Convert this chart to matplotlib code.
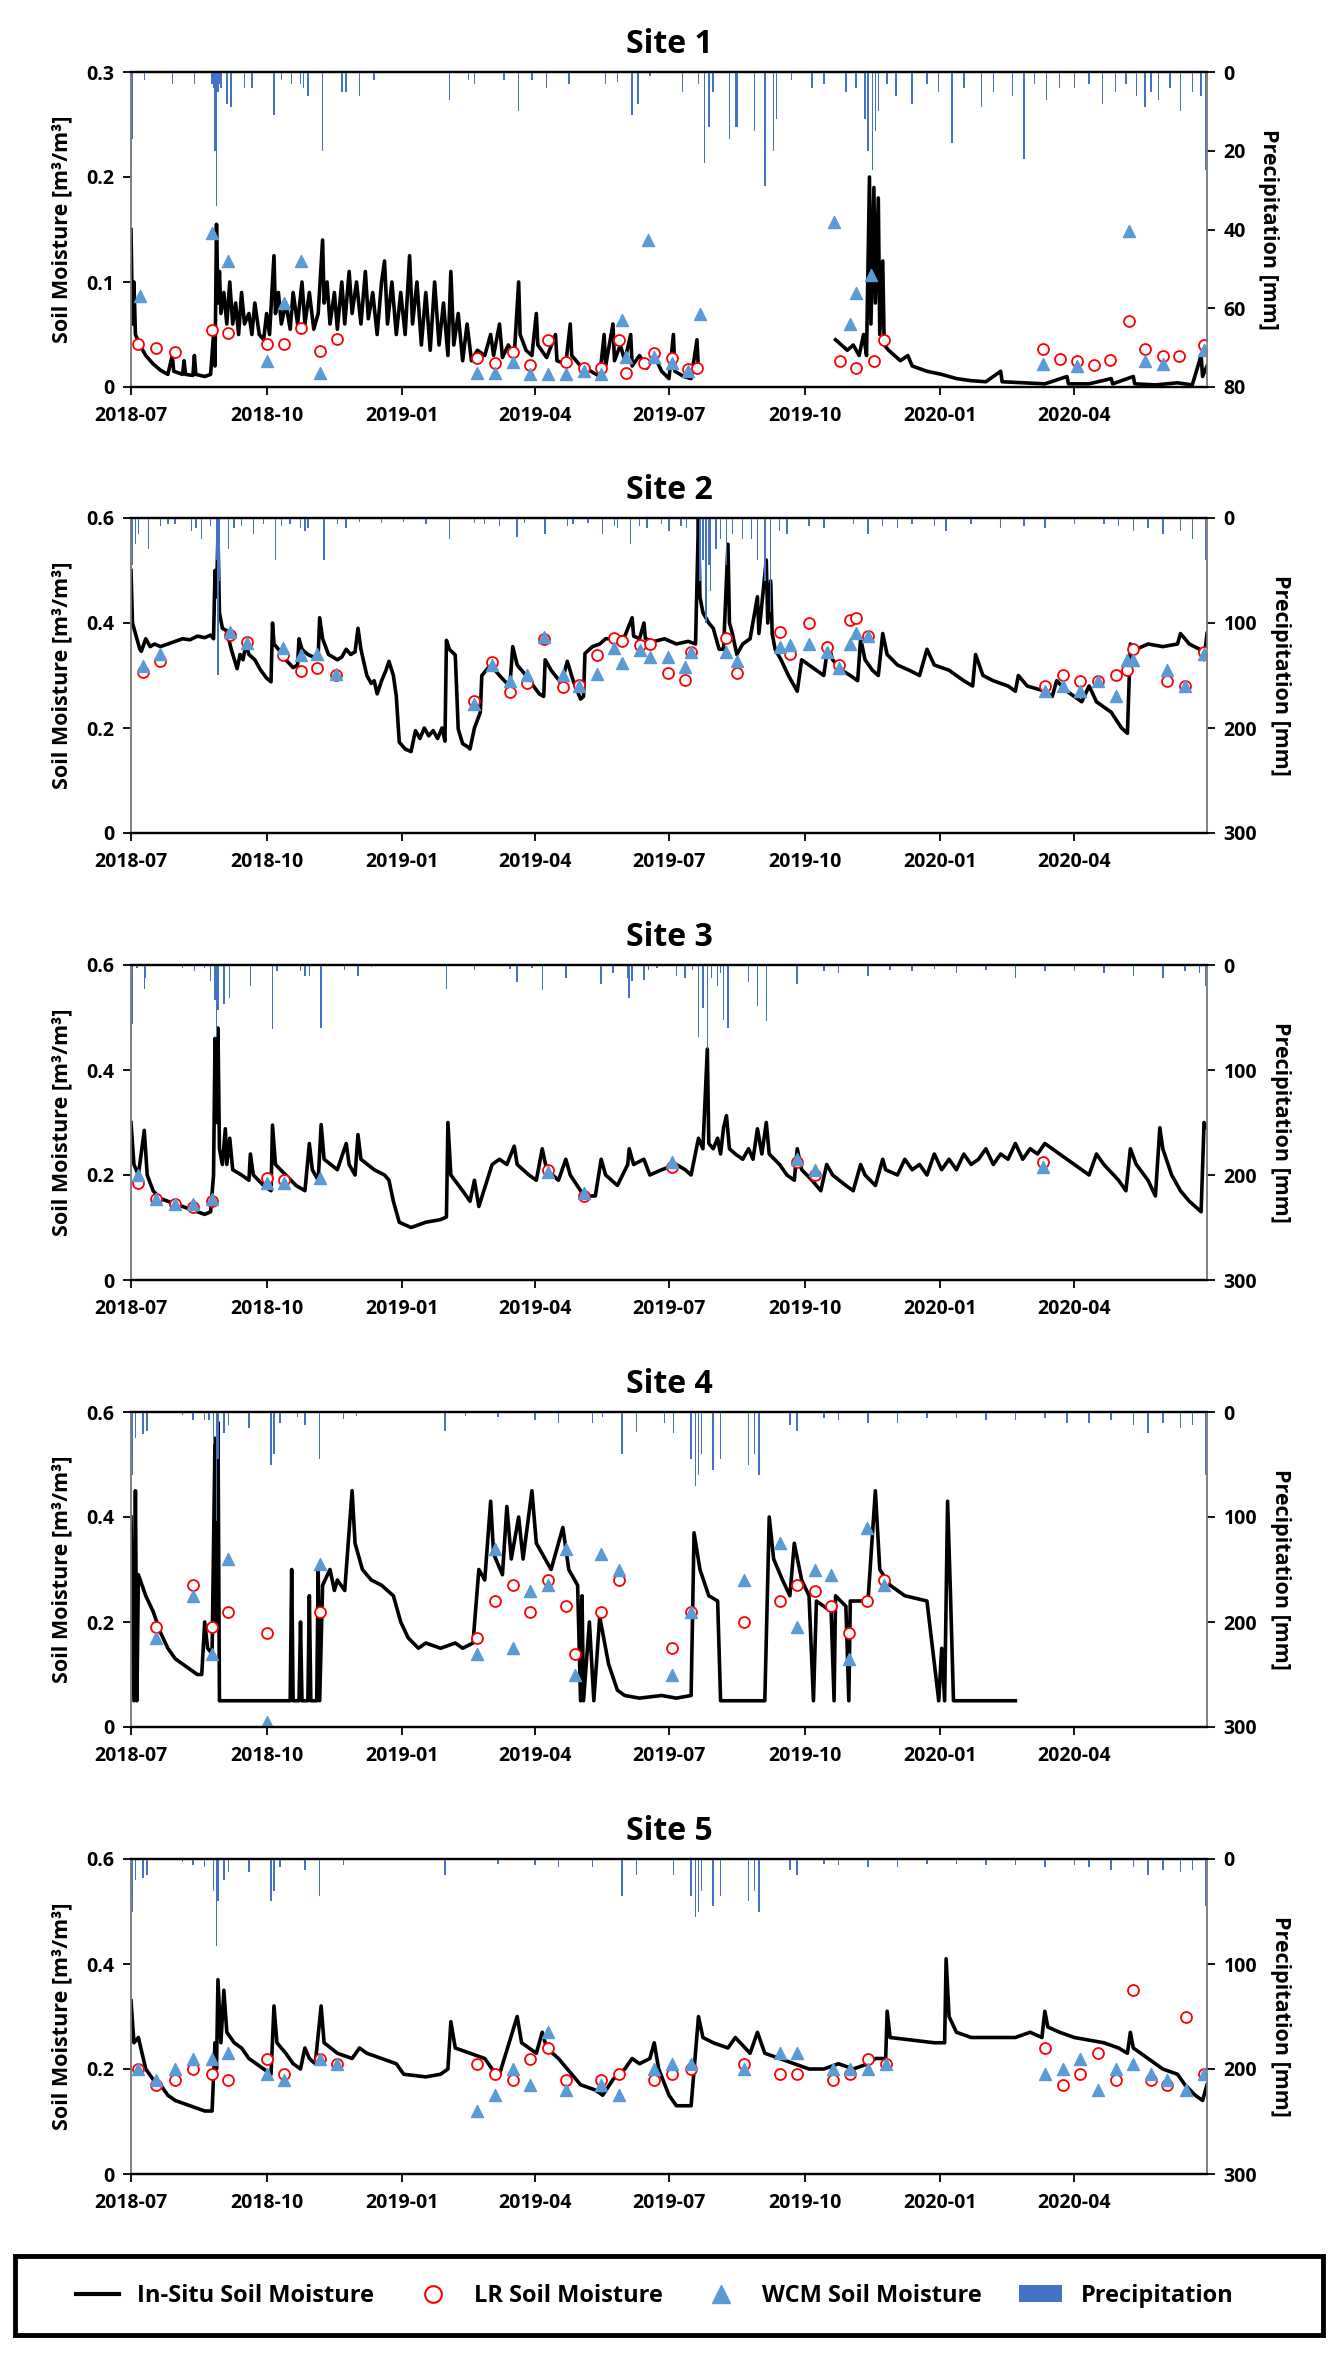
import matplotlib
matplotlib.use("Agg")
import matplotlib.pyplot as plt
import matplotlib.dates as mdates
import numpy as np
import pandas as pd
from matplotlib.lines import Line2D
from matplotlib.patches import Patch, Rectangle

plt.rcParams['font.family'] = ['Open Sans', 'DejaVu Sans']
plt.rcParams['font.weight'] = 'bold'

# all days are counted from 2018-07-01
start = pd.Timestamp("2018-07-01")
nan = np.nan

# ---------------- Site 1 ----------------
s1_day = [0, 1, 2, 3, 6, 10, 15, 20, 25, 28, 29, 35, 36, 37, 42, 43, 44, 50, 54, 56, 57, 58, 59, 60, 61, 63, 65, 67, 69,
          71, 73, 75, 77, 80, 82, 84, 87, 90, 92, 94, 97, 98, 100, 102, 105, 108, 110, 113, 116, 118, 121, 124, 127,
          130, 131, 133, 135, 138, 140, 143, 145, 148, 150, 153, 156, 159, 161, 164, 167, 170, 172, 174, 177, 180,
          183, 186, 189, 191, 194, 197, 200, 203, 206, 209, 212, 215, 217, 219, 222, 225, 228, 231, 235, 240, 244,
          246, 250, 252, 256, 260, 263, 264, 268, 272, 275, 276, 282, 288, 289, 295, 298, 299, 305, 312, 318, 321,
          322, 327, 328, 332, 335, 339, 340, 345, 350, 355, 360, 365, 368, 369, 375, 380, 384, 385, 386,
          476, 478, 482, 486, 490, 494, 497, 499, 501, 502, 504, 505, 507, 508, 510, 511, 514, 518, 522, 527, 530,
          540, 550, 560, 570, 580, 590, 591, 605, 620, 635, 636, 650, 665, 666, 680, 681, 695, 710, 720, 726, 727, 730]
s1_insitu = [0.15, 0.06, 0.1, 0.05, 0.04, 0.03, 0.022, 0.016, 0.012, 0.03, 0.015, 0.012, 0.025, 0.012, 0.011, 0.03,
             0.012, 0.01, 0.012, 0.05, 0.02, 0.155, 0.08, 0.11, 0.07, 0.09, 0.06, 0.1, 0.06,
             0.08, 0.05, 0.09, 0.06, 0.07, 0.05, 0.08, 0.05, 0.045, 0.07, 0.05, 0.125, 0.07, 0.09, 0.06, 0.08, 0.055,
             0.09, 0.06, 0.1, 0.06, 0.09, 0.055, 0.07,
             0.14, 0.08, 0.1, 0.06, 0.09, 0.055, 0.1, 0.06, 0.11, 0.07, 0.1, 0.06, 0.11, 0.065, 0.09, 0.05, 0.1, 0.12,
             0.06, 0.1, 0.05,
             0.09, 0.05, 0.125, 0.06, 0.1, 0.04, 0.09, 0.035, 0.1, 0.04, 0.08, 0.03, 0.11, 0.04, 0.07, 0.025, 0.06,
             0.025, 0.035, 0.03, 0.05,
             0.03, 0.06, 0.028, 0.04, 0.03, 0.1, 0.05, 0.035, 0.03, 0.07, 0.04, 0.028, 0.05, 0.025, 0.022, 0.06, 0.03,
             0.02, 0.015, 0.01, 0.05,
             0.02, 0.06, 0.025, 0.04, 0.025, 0.05, 0.02, 0.03, 0.018, 0.03, 0.015, 0.008, 0.05, 0.015, 0.01, 0.008,
             0.045, 0.015, nan,
             nan, 0.045, 0.04, 0.035, 0.04, 0.03, 0.05, 0.03, 0.2, 0.06, 0.19, 0.08, 0.18, 0.05, 0.12, 0.04, 0.035,
             0.03, 0.025, 0.03, 0.02,
             0.015, 0.012, 0.008, 0.006, 0.005, 0.015, 0.005, 0.004, 0.003, 0.01, 0.003, 0.003, 0.008, 0.003, 0.01,
             0.003, 0.002, 0.004, 0.002, 0.03, 0.01, 0.02]
s1_lr_day = [5, 17, 30, 55, 66, 92, 104, 115, 128, 140, 235, 247, 259, 271, 283, 295, 307, 319, 331, 336, 348, 355,
             367, 378, 384, 481, 492, 504, 511, 619, 630, 642, 653, 664, 677, 688, 700, 711, 728]
s1_lr = [0.041, 0.037, 0.033, 0.054, 0.051, 0.041, 0.041, 0.056, 0.034, 0.046, 0.028, 0.023, 0.033, 0.021, 0.045,
         0.024, 0.018, 0.018, 0.045, 0.013, 0.023, 0.032, 0.028, 0.017, 0.018, 0.025, 0.018, 0.025, 0.045, 0.036,
         0.027, 0.025, 0.021, 0.026, 0.063, 0.036, 0.03, 0.03, 0.04]
s1_wcm_day = [6, 55, 66, 92, 104, 115, 128, 235, 247, 259, 271, 283, 295, 307, 319, 333, 336, 351, 355, 367, 378,
              386, 477, 488, 492, 502, 619, 642, 677, 688, 700, 728]
s1_wcm = [0.087, 0.147, 0.12, 0.025, 0.08, 0.12, 0.013, 0.013, 0.013, 0.024, 0.012, 0.012, 0.012, 0.015, 0.012,
          0.064, 0.029, 0.14, 0.029, 0.023, 0.015, 0.07, 0.157, 0.06, 0.09, 0.107, 0.022, 0.02, 0.149, 0.025, 0.022,
          0.035]
s1_p_day = [0, 1, 9, 28, 43, 55, 56, 57, 58, 59, 60, 61, 65, 68, 77, 82, 97, 102, 109, 115, 117, 120, 130, 143, 146,
            155, 165, 216, 229, 233, 253, 263, 272, 282, 297, 322, 330, 340, 344, 352, 374, 385, 389, 392, 395, 406,
            410, 411, 423, 430, 436, 438, 448, 462, 470, 485, 492, 498, 500, 503, 505, 507, 513, 519, 530, 540, 548,
            557, 565, 577, 585, 598, 606, 613, 621, 630, 640, 650, 659, 668, 675, 682, 688, 692, 697, 705, 712, 720,
            726, 729]
s1_p = [25, 17, 2, 3, 3, 3, 4, 20, 34, 5, 3, 4, 8, 9, 4, 4, 11, 2, 3, 3, 4, 6, 20, 5, 5, 6, 2, 7, 2, 3, 2, 10, 2, 4, 3,
        3, 2.5, 11, 8, 1, 5, 3, 23, 14, 5, 17, 14, 14, 15, 29, 20, 12, 2, 4, 3, 5, 4, 12, 20, 25, 15, 10, 3, 6, 8, 3, 5,
        18, 4, 9, 5, 6, 22, 3, 7, 4, 4, 3, 8, 5, 3, 6, 9, 5, 7, 4, 10, 5, 6, 25]

# ---------------- Site 2 ----------------
s2_day = [0, 1, 3, 6, 7, 10, 13, 16, 20, 25, 30, 35, 40, 45, 50, 54, 56, 57, 58, 59, 60, 62, 65, 68, 72, 74, 76, 78,
          80, 84, 88, 92, 95, 96, 97, 100, 105, 110, 113, 114, 116, 120, 124, 127, 128, 130, 134, 140, 143, 146, 149,
          152, 154, 156, 160, 163, 165, 167, 170, 173, 175, 178, 180, 182, 186, 190, 193, 196, 199, 202, 205, 208,
          211, 213, 214, 216, 220, 222, 225, 228, 230, 233, 237, 238, 244, 250, 257, 259, 262, 268, 273, 277, 280,
          281, 285, 292, 296, 300, 305, 307, 308, 313, 318, 322, 328, 335, 340, 341, 345, 348, 349, 355, 362, 370,
          378, 383, 385, 386, 388, 392, 395, 399, 402, 405, 406, 408, 411, 415, 420, 425, 426, 431, 432, 434, 435,
          437, 441, 446, 452, 455, 460, 465, 470, 473, 476, 482, 488, 493, 495, 498, 503, 507, 510, 513, 520, 528,
          535, 540, 545, 555, 560, 565, 571, 573, 578, 585, 595, 600, 602, 608, 620, 625, 628, 635, 645, 650, 655,
          665, 672, 676, 678, 682, 690, 700, 710, 712, 718, 725, 728, 730]
s2_insitu = [0.5, 0.4, 0.38, 0.35, 0.346, 0.37, 0.355, 0.36, 0.355, 0.36, 0.365, 0.37, 0.368, 0.375, 0.372, 0.377,
             0.37, 0.5, 0.45, 0.57, 0.42, 0.39, 0.385, 0.35, 0.313, 0.34, 0.33, 0.36,
             0.34, 0.33, 0.31, 0.295, 0.288, 0.4, 0.36, 0.35, 0.33, 0.315, 0.32, 0.37, 0.35, 0.34, 0.335, 0.34, 0.41,
             0.37, 0.34, 0.33, 0.335, 0.35, 0.34,
             0.345, 0.39, 0.35, 0.3, 0.285, 0.29, 0.265, 0.29, 0.31, 0.327, 0.3, 0.26, 0.173, 0.16, 0.155, 0.195, 0.18,
             0.2, 0.185, 0.195, 0.18,
             0.2, 0.175, 0.367, 0.35, 0.339, 0.198, 0.17, 0.165, 0.16, 0.2, 0.23, 0.3, 0.32, 0.3, 0.279, 0.355, 0.32,
             0.3, 0.28, 0.265, 0.26,
             0.33, 0.31, 0.285, 0.327, 0.29, 0.255, 0.26, 0.342, 0.355, 0.36, 0.37, 0.37, 0.375, 0.41, 0.375, 0.37,
             0.4, 0.37, 0.365, 0.37, 0.36,
             0.365, 0.36, 0.6, 0.45, 0.42, 0.4, 0.39, 0.35, 0.35, 0.55, 0.4, 0.38, 0.34, 0.36, 0.37, 0.45, 0.38, 0.52,
             0.4, 0.48, 0.38,
             0.35, 0.33, 0.3, 0.27, 0.33, 0.32, 0.31, 0.3, 0.36, 0.33, 0.31, 0.3, 0.29, 0.37, 0.33, 0.31, 0.3, 0.38,
             0.34, 0.32, 0.31,
             0.3, 0.35, 0.32, 0.31, 0.3, 0.29, 0.28, 0.34, 0.3, 0.29, 0.28, 0.27, 0.3, 0.28, 0.27, 0.26, 0.29, 0.27,
             0.25, 0.28, 0.25,
             0.23, 0.2, 0.19, 0.36, 0.35, 0.36, 0.355, 0.36, 0.38, 0.36, 0.35, 0.33, 0.38]
s2_lr_day = [8, 20, 67, 79, 103, 115, 126, 139, 233, 245, 257, 269, 280, 293, 304, 316, 328, 333, 345, 352, 364, 376,
             380, 404, 411, 440, 447, 460, 472, 480, 488, 492, 500, 620, 632, 644, 656, 668, 676, 680, 703, 715, 728]
s2_lr = [0.307, 0.328, 0.378, 0.363, 0.339, 0.308, 0.315, 0.301, 0.251, 0.325, 0.269, 0.285, 0.37, 0.279, 0.281,
         0.339, 0.371, 0.365, 0.358, 0.36, 0.305, 0.291, 0.344, 0.372, 0.304, 0.383, 0.34, 0.4, 0.355, 0.32, 0.405,
         0.41, 0.375, 0.28, 0.3, 0.29, 0.29, 0.3, 0.31, 0.35, 0.29, 0.28, 0.345]
s2_wcm_day = [8, 20, 67, 79, 103, 115, 126, 139, 233, 245, 257, 269, 280, 293, 304, 316, 328, 333, 345, 352, 364,
              376, 380, 404, 411, 440, 447, 460, 472, 480, 488, 492, 500, 620, 632, 644, 656, 668, 676, 680, 703, 715,
              728]
s2_wcm = [0.319, 0.341, 0.383, 0.362, 0.353, 0.339, 0.34, 0.303, 0.246, 0.32, 0.29, 0.3, 0.374, 0.3, 0.28, 0.302,
          0.353, 0.324, 0.349, 0.335, 0.335, 0.317, 0.344, 0.345, 0.327, 0.355, 0.358, 0.36, 0.345, 0.315, 0.36,
          0.38, 0.375, 0.27, 0.28, 0.27, 0.29, 0.26, 0.33, 0.33, 0.31, 0.28, 0.34]
s2_p_day = [0, 1, 3, 5, 12, 20, 25, 30, 41, 44, 48, 54, 58, 59, 60, 66, 70, 75, 83, 90, 98, 102, 108, 115, 118, 120,
            131, 140, 146, 155, 170, 185, 200, 216, 233, 240, 250, 262, 267, 281, 296, 300, 310, 320, 328, 330, 339,
            345, 350, 360, 365, 373, 377, 386, 388, 390, 392, 393, 397, 400, 404, 408, 415, 421, 425, 430, 434, 440,
            445, 460, 470, 490, 500, 510, 520, 530, 545, 553, 570, 590, 606, 620, 640, 660, 670, 680, 690, 700, 712,
            720, 729]
s2_p = [30, 45, 25, 15, 30, 8, 6, 6, 12, 10, 20, 8, 40, 150, 60, 30, 10, 8, 15, 6, 40, 8, 6, 10, 12, 10, 40, 6, 10, 4,
        5, 4, 6, 20, 5, 6, 8, 18, 5, 15, 8, 6, 5, 15, 8, 10, 25, 8, 10, 6, 12, 8, 10, 60, 40, 100, 45, 70, 30, 20, 45,
        15, 20, 20, 40, 60, 90, 12, 15, 8, 10, 6, 15, 8, 10, 6, 8, 12, 6, 10, 8, 10, 6, 6, 8, 12, 10, 15, 12, 20, 40]

# ---------------- Site 3 ----------------
s3_day = [0, 2, 5, 9, 11, 15, 20, 25, 30, 35, 40, 45, 50, 54, 56, 57, 58, 59, 60, 62, 64, 65, 67, 69, 75, 80, 81, 83,
          90, 95, 96, 98, 105, 112, 118, 121, 123, 127, 129, 131, 140, 146, 148, 152, 154, 156, 165, 172, 175, 178,
          182, 190, 200, 210, 214, 215, 217, 225, 230, 233, 236, 245, 250, 255, 260, 262, 270, 275, 279, 282, 290,
          295, 298, 305, 310, 315, 319, 322, 330, 337, 338, 341, 348, 352, 360, 370, 376, 380, 385, 388, 391, 392,
          395, 398, 400, 402, 404, 406, 410, 415, 419, 422, 425, 428, 431, 433, 440, 445, 450, 452, 455, 462, 468,
          472, 476, 485, 490, 495, 498, 505, 510, 512, 520, 525, 530, 535, 540, 545, 550, 555, 560, 565, 570, 575,
          580, 585, 590, 595, 600, 605, 610, 615, 620, 625,
          630, 640, 650, 655, 660, 670, 675, 678, 682, 690, 695, 698, 700, 706, 712, 718, 722, 726, 728, 730]
s3_insitu = [0.3, 0.22, 0.2, 0.285, 0.2, 0.17, 0.155, 0.15, 0.145, 0.14, 0.135, 0.13, 0.125, 0.13, 0.2, 0.46, 0.3,
             0.48, 0.25, 0.22, 0.288, 0.22, 0.27, 0.21, 0.2, 0.19, 0.24, 0.2,
             0.18, 0.17, 0.295, 0.22, 0.2, 0.18, 0.17, 0.26, 0.21, 0.19, 0.296, 0.23, 0.21, 0.26, 0.22, 0.2, 0.277,
             0.23, 0.21, 0.2, 0.19, 0.15,
             0.11, 0.1, 0.11, 0.115, 0.12, 0.3, 0.2, 0.17, 0.15, 0.19, 0.14, 0.22, 0.23, 0.22, 0.255, 0.22, 0.2, 0.19,
             0.25, 0.21, 0.19,
             0.23, 0.2, 0.17, 0.16, 0.16, 0.23, 0.2, 0.18, 0.22, 0.25, 0.22, 0.23, 0.2, 0.21, 0.22, 0.21, 0.2, 0.27,
             0.25, 0.44, 0.26,
             0.25, 0.27, 0.24, 0.29, 0.313, 0.25, 0.24, 0.23, 0.25, 0.23, 0.288, 0.24, 0.3, 0.24, 0.22, 0.2, 0.19,
             0.25, 0.21, 0.19, 0.17,
             0.22, 0.2, 0.18, 0.17, 0.22, 0.2, 0.18, 0.23, 0.21, 0.2, 0.23, 0.21, 0.22, 0.2, 0.24, 0.21, 0.23, 0.21,
             0.24, 0.22, 0.23, 0.25,
             0.22, 0.24, 0.23, 0.26, 0.23, 0.25, 0.24, 0.26, 0.25,
             0.24, 0.22, 0.2, 0.24, 0.22, 0.19, 0.17, 0.25, 0.22, 0.19, 0.16, 0.29, 0.25, 0.2, 0.17, 0.15, 0.14, 0.13,
             0.3, 0.29]
s3_lr_day = [5, 17, 30, 42, 55, 92, 104, 283, 307, 367, 452, 464, 619]
s3_lr = [0.185, 0.155, 0.145, 0.14, 0.15, 0.195, 0.19, 0.21, 0.16, 0.215, 0.225, 0.2, 0.225]
s3_wcm_day = [5, 17, 30, 42, 55, 92, 104, 128, 283, 307, 367, 452, 464, 619]
s3_wcm = [0.2, 0.155, 0.145, 0.145, 0.155, 0.185, 0.185, 0.195, 0.205, 0.165, 0.225, 0.23, 0.21, 0.215]
s3_p_day = [0, 1, 4, 9, 10, 35, 43, 50, 54, 57, 58, 59, 63, 67, 81, 96, 99, 115, 118, 121, 129, 145, 154, 163, 214,
            233, 257, 262, 272, 279, 295, 319, 327, 337, 338, 340, 348, 351, 357, 370, 376, 381, 385, 388, 391, 394,
            398, 400, 402, 405, 419, 425, 431, 452, 470, 480, 500, 515, 530, 545, 560, 580, 600, 620, 640, 660, 680,
            700, 715, 725, 729]
s3_p = [73, 56, 3, 23, 12, 3, 6, 3, 15, 33, 69, 43, 37, 31, 20, 61, 6, 6, 10, 10, 60, 5, 10, 2, 23, 5, 4, 16, 3, 24,
        12, 18, 8, 12, 31, 15, 14, 5, 3, 10, 12, 5, 69, 41, 80, 12, 20, 8, 52, 60, 16, 39, 53, 18, 6, 8, 10, 5, 6, 4,
        8, 5, 12, 6, 6, 8, 10, 12, 6, 8, 20]

# ---------------- Site 4 ----------------
s4_day = [0, 2, 3, 4, 5, 10, 15, 20, 25, 30, 35, 40, 45, 48, 50, 52, 55, 57, 58, 59, 60, 65, 75, 90, 100, 108, 109,
          110, 114, 115, 116, 120, 121, 122, 126, 127, 128, 130, 135, 138, 140, 145, 150, 152, 157, 163, 170, 178,
          183, 188, 195, 200, 210, 220, 225, 232, 236, 240, 244, 246, 252, 255, 258, 263, 266, 272, 275, 285, 293,
          297, 303, 305, 306, 307, 311, 314, 318, 324, 330, 335, 345, 360, 370, 380, 382, 386, 392, 398, 400, 410,
          420, 430, 433, 436, 442, 447, 450, 455, 460, 463, 465, 475, 477, 478, 485, 487, 488, 500, 505, 508, 515,
          525, 540, 548, 550, 552, 554, 556, 558, 570, 590, 600]
s4_insitu = [0.4, 0.05, 0.45, 0.05, 0.29, 0.25, 0.22, 0.18, 0.15, 0.13, 0.12, 0.11, 0.1, 0.1, 0.2, 0.15, 0.14, 0.55,
             0.2, 0.58, 0.05, 0.05, 0.05, 0.05, 0.05, 0.05, 0.3,
             0.05, 0.05, 0.2, 0.05, 0.05, 0.25, 0.05, 0.05, 0.3, 0.05, 0.27, 0.3, 0.26, 0.28, 0.26, 0.45, 0.35, 0.3,
             0.28, 0.27, 0.25,
             0.2, 0.17, 0.15, 0.16, 0.15, 0.16, 0.15, 0.16, 0.3, 0.28, 0.43, 0.33, 0.29, 0.42, 0.32, 0.4, 0.32, 0.45,
             0.35, 0.3, 0.38,
             0.3, 0.27, 0.05, 0.25, 0.05, 0.2, 0.05, 0.21, 0.12, 0.07, 0.06, 0.055, 0.06, 0.055, 0.06, 0.37, 0.3, 0.25,
             0.24, 0.05, 0.05,
             0.05, 0.05, 0.4, 0.32, 0.28, 0.25, 0.35, 0.28, 0.25, 0.05, 0.24, 0.22, 0.05, 0.25, 0.23, 0.05, 0.24, 0.24,
             0.45, 0.3, 0.27,
             0.25, 0.24, 0.05, 0.15, 0.05, 0.43, 0.25, 0.05, 0.05, 0.05, 0.05]
s4_lr_day = [17, 42, 55, 66, 92, 128, 235, 247, 259, 271, 283, 295, 301, 319, 331, 367, 380, 416, 440, 452, 464, 475,
             487, 499, 511]
s4_lr = [0.19, 0.27, 0.19, 0.22, 0.18, 0.22, 0.17, 0.24, 0.27, 0.22, 0.28, 0.23, 0.14, 0.22, 0.28, 0.15, 0.22, 0.2,
         0.24, 0.27, 0.26, 0.23, 0.18, 0.24, 0.28]
s4_wcm_day = [17, 42, 55, 66, 92, 128, 235, 247, 259, 271, 283, 295, 301, 319, 331, 367, 380, 416, 440, 452, 464,
              475, 487, 499, 511]
s4_wcm = [0.17, 0.25, 0.14, 0.32, 0.01, 0.31, 0.14, 0.34, 0.15, 0.26, 0.27, 0.34, 0.1, 0.33, 0.3, 0.1, 0.22, 0.28,
          0.35, 0.19, 0.3, 0.29, 0.13, 0.38, 0.27]
s4_p_day = [0, 1, 3, 8, 11, 35, 42, 50, 53, 56, 58, 59, 63, 66, 80, 95, 97, 101, 113, 118, 128, 144, 153, 213, 227,
            249, 274, 290, 313, 320, 333, 343, 362, 368, 380, 383, 385, 387, 395, 400, 419, 423, 426, 447, 452, 470,
            480, 500, 520, 540, 560, 580, 600, 620, 635, 650, 665, 680, 690, 700, 712, 720, 729]
s4_p = [40, 60, 25, 21, 18, 3, 8, 8, 8, 30, 104, 45, 20, 12, 15, 50, 40, 10, 5, 12, 45, 7, 4, 18, 4, 5, 8, 10, 10, 5,
        40, 19, 10, 20, 45, 70, 60, 40, 55, 45, 50, 40, 60, 12, 18, 6, 8, 10, 10, 6, 6, 8, 8, 6, 10, 10, 8, 12, 20, 10,
        15, 12, 60]

# ---------------- Site 5 ----------------
s5_day = [0, 2, 5, 10, 15, 20, 25, 30, 40, 50, 55, 57, 58, 59, 61, 63, 65, 70, 75, 80, 85, 90, 95, 97, 99, 105, 110,
          115, 118, 121, 125, 129, 131, 140, 150, 155, 160, 170, 180, 185, 200, 210, 215, 217, 220, 230, 240, 245,
          250, 262, 265, 275, 279, 282, 290, 296, 305, 315, 320, 327, 335, 340, 345, 352, 355, 358, 365, 370, 380,
          385, 388, 395, 405, 410, 420, 425, 430, 440, 450, 460, 470, 480, 490, 500, 505, 512, 513, 515, 530, 545,
          552, 553, 555, 560, 570, 580, 590, 600, 610, 618, 620, 622, 630, 640, 650, 660, 670, 676, 678, 680, 690,
          700, 710, 715, 722, 727, 730]
s5_insitu = [0.33, 0.25, 0.26, 0.2, 0.18, 0.17, 0.15, 0.14, 0.13, 0.12, 0.12, 0.25, 0.2, 0.37, 0.25, 0.35, 0.27, 0.25,
             0.24, 0.22, 0.21, 0.2, 0.19, 0.32, 0.25, 0.23, 0.21,
             0.2, 0.24, 0.22, 0.21, 0.32, 0.25, 0.23, 0.22, 0.24, 0.23, 0.22, 0.21, 0.19, 0.185, 0.19, 0.2, 0.29, 0.24,
             0.23, 0.22, 0.2,
             0.19, 0.3, 0.25, 0.23, 0.27, 0.24, 0.22, 0.2, 0.17, 0.16, 0.15, 0.18, 0.2, 0.22, 0.21, 0.22, 0.25, 0.2,
             0.15, 0.13, 0.13,
             0.3, 0.26, 0.25, 0.24, 0.26, 0.23, 0.27, 0.23, 0.22, 0.21, 0.2, 0.2, 0.21, 0.2, 0.21, 0.22, 0.22, 0.31,
             0.26, 0.255, 0.25,
             0.25, 0.41, 0.3, 0.27, 0.26, 0.26, 0.26, 0.26, 0.27, 0.26, 0.31, 0.28, 0.27, 0.26, 0.255, 0.25, 0.24,
             0.23, 0.27, 0.24, 0.22,
             0.2, 0.19, 0.17, 0.15, 0.14, 0.17]
s5_lr_day = [5, 17, 30, 42, 55, 66, 92, 104, 128, 140, 235, 247, 259, 271, 283, 295, 319, 331, 355, 367, 380, 416,
             440, 452, 476, 488, 500, 512, 620, 632, 644, 656, 668, 680, 692, 703, 716, 728]
s5_lr = [0.2, 0.17, 0.18, 0.2, 0.19, 0.18, 0.22, 0.19, 0.22, 0.21, 0.21, 0.19, 0.18, 0.22, 0.24, 0.18, 0.18, 0.19,
         0.18, 0.19, 0.2, 0.21, 0.19, 0.19, 0.18, 0.19, 0.22, 0.21, 0.24, 0.17, 0.19, 0.23, 0.18, 0.35, 0.18, 0.17,
         0.3, 0.19]
s5_wcm_day = [5, 17, 30, 42, 55, 66, 92, 104, 128, 140, 235, 247, 259, 271, 283, 295, 319, 331, 355, 367, 380, 416,
              440, 452, 476, 488, 500, 512, 620, 632, 644, 656, 668, 680, 692, 703, 716, 728]
s5_wcm = [0.2, 0.18, 0.2, 0.22, 0.22, 0.23, 0.19, 0.18, 0.22, 0.21, 0.12, 0.15, 0.2, 0.17, 0.27, 0.16, 0.17, 0.15,
          0.2, 0.21, 0.21, 0.2, 0.23, 0.23, 0.2, 0.2, 0.2, 0.21, 0.19, 0.2, 0.22, 0.16, 0.2, 0.21, 0.19, 0.18, 0.16,
          0.19]
s5_p_day = [0, 1, 3, 8, 11, 35, 42, 50, 56, 58, 59, 63, 66, 80, 95, 97, 101, 118, 128, 144, 213, 249, 274, 290, 313,
            333, 343, 368, 380, 383, 385, 387, 395, 400, 419, 423, 426, 447, 452, 470, 480, 500, 520, 540, 560, 580,
            600, 620, 640, 650, 665, 680, 690, 700, 712, 720, 729]
s5_p = [35, 50, 20, 18, 15, 3, 6, 8, 30, 83, 40, 20, 12, 12, 40, 30, 8, 10, 35, 6, 15, 5, 6, 8, 8, 35, 15, 15, 35, 55,
        50, 30, 45, 35, 40, 30, 50, 10, 15, 5, 6, 8, 8, 5, 5, 6, 6, 8, 6, 8, 10, 8, 15, 10, 12, 10, 45]

sites = [
    ("Site 1", 0.3, 80, s1_day, s1_insitu, s1_lr_day, s1_lr, s1_wcm_day, s1_wcm, s1_p_day, s1_p),
    ("Site 2", 0.6, 300, s2_day, s2_insitu, s2_lr_day, s2_lr, s2_wcm_day, s2_wcm, s2_p_day, s2_p),
    ("Site 3", 0.6, 300, s3_day, s3_insitu, s3_lr_day, s3_lr, s3_wcm_day, s3_wcm, s3_p_day, s3_p),
    ("Site 4", 0.6, 300, s4_day, s4_insitu, s4_lr_day, s4_lr, s4_wcm_day, s4_wcm, s4_p_day, s4_p),
    ("Site 5", 0.6, 300, s5_day, s5_insitu, s5_lr_day, s5_lr, s5_wcm_day, s5_wcm, s5_p_day, s5_p),
]


def to_dates(days):
    return start + pd.to_timedelta(days, unit="D")


fig = plt.figure(figsize=(13.36, 23.56), dpi=100)
W, H = 1336, 2356
bottoms = [387, 833, 1280, 1727, 2174]

for (title, smax, pmax, d, sm, lrd, lr, wd, wcm, pd_, p), b in zip(sites, bottoms):
    ax = fig.add_axes([131 / W, 1 - b / H, 1076 / W, 315 / H])
    ax2 = ax.twinx()

    ax.plot(to_dates(d), sm, color="black", lw=2.6, zorder=3)
    ax.scatter(to_dates(lrd), lr, s=62, facecolors="white", edgecolors="#FF0000", linewidths=1.3, zorder=4)
    ax.scatter(to_dates(wd), wcm, marker="^", s=75, color="#5B9BD5", zorder=5)
    ax2.bar(to_dates(pd_), p, width=1.0, color="#4472C4", align="center")

    ax.set_xlim(start, start + pd.Timedelta(days=730))
    ax.set_ylim(0, smax)
    ax2.set_ylim(pmax, 0)
    ax.set_yticks(np.linspace(0, smax, 4))
    ax.set_yticklabels(["0"] + [f"{v:g}" for v in np.linspace(0, smax, 4)[1:]])
    ax2.set_yticks(np.linspace(0, pmax, 5 if pmax == 80 else 4))

    ax.xaxis.set_major_locator(mdates.MonthLocator(bymonth=[1, 4, 7, 10]))
    ax.xaxis.set_major_formatter(mdates.DateFormatter("%Y-%m"))

    for a in (ax, ax2):
        a.tick_params(labelsize=14, length=6, width=1.3, direction="out")
        for side in ("left", "right"):
            a.spines[side].set_color("#808080")
            a.spines[side].set_linewidth(1.2)
        for side in ("top", "bottom"):
            a.spines[side].set_color("black")
            a.spines[side].set_linewidth(1.6)
    ax.tick_params(axis="x", pad=8)
    ax.tick_params(axis="y", pad=6)
    ax2.tick_params(axis="y", pad=6)

    ax.set_ylabel("Soil Moisture [m³/m³]", fontsize=15.5, fontweight="bold", labelpad=10)
    ax2.set_ylabel("Precipitation [mm]", fontsize=15.5, fontweight="bold", rotation=270, labelpad=24)
    ax.set_title(title, fontsize=23, fontweight="bold", pad=14)

handles = [
    Line2D([], [], color="black", lw=3),
    Line2D([], [], marker="o", ls="none", markersize=12, markerfacecolor="white", markeredgecolor="#FF0000",
           markeredgewidth=1.5),
    Line2D([], [], marker="^", ls="none", markersize=13, color="#5B9BD5"),
    Patch(facecolor="#4472C4"),
]
labels = ["In-Situ Soil Moisture", "LR Soil Moisture", "WCM Soil Moisture", "Precipitation"]
leg = fig.legend(handles, labels, loc="center", ncol=4, fontsize=17, frameon=False,
                 bbox_to_anchor=(0.49, 1 - 2296 / H), handlelength=1.8, handletextpad=0.8, columnspacing=1.6)
# outer box of the legend
fig.patches.append(Rectangle((15 / W, 1 - 2335 / H), 1308 / W, 79 / H, transform=fig.transFigure,
                             fill=False, edgecolor="black", linewidth=3.5))

fig.savefig("out.png", dpi=100)
